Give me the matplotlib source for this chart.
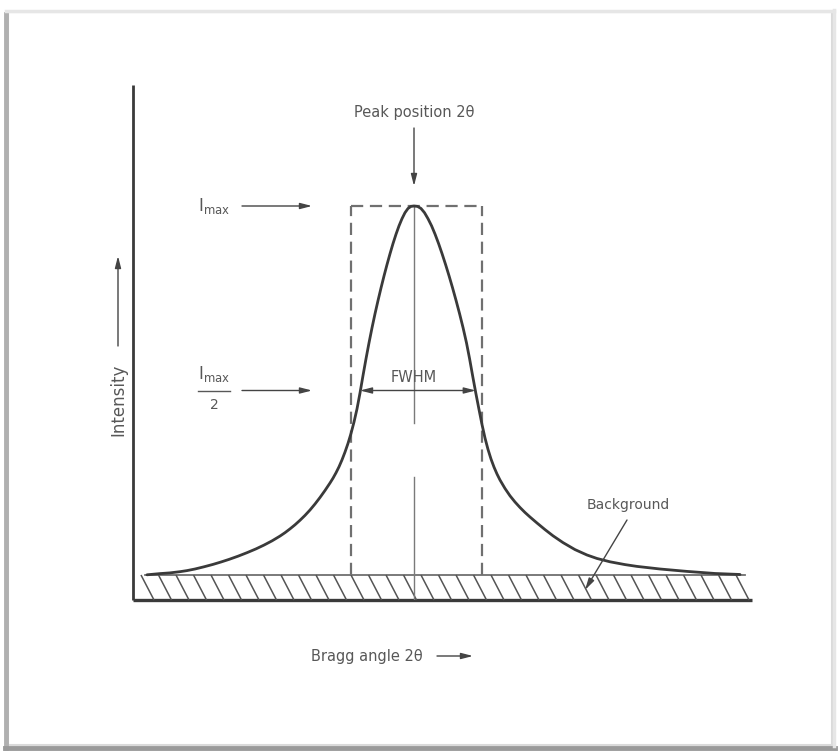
import matplotlib
matplotlib.use("Agg")
import matplotlib.pyplot as plt
from matplotlib.patches import Rectangle
import numpy as np

# Diffraction peak profile (2θ and intensity in arbitrary units)
two_theta = [1.4, 2.7, 3.7, 4.7, 5.4, 6.2, 7.1, 8.0, 8.8, 9.6, 10.5, 11.4,
             12.3, 13.1, 13.9, 14.7, 15.2, 15.7, 16.2, 16.7, 17.2, 17.7, 18.2,
             18.7, 19.2, 19.7, 20.0, 20.3, 20.6, 20.9, 21.2, 21.5, 21.8, 22.1,
             22.4, 22.7, 23.0, 23.3, 23.6, 23.9, 24.2, 24.5, 24.8, 25.1, 25.4,
             25.7, 26.0, 26.3, 26.6, 26.9, 27.2, 27.5, 27.8, 28.1,
             28.45, 28.8, 29.15, 29.5, 29.86, 30.21, 30.56, 30.91, 31.26,
             31.61, 31.96, 32.31, 32.66, 33.01, 33.35, 33.66, 33.96, 34.28,
             34.6, 34.9, 35.2, 35.5, 35.8, 36.1, 36.4, 36.7, 37.2, 37.7, 38.2,
             38.7, 39.2, 39.7, 40.4, 41.2, 42.0, 43.0, 44.2, 45.4, 46.4, 47.7,
             49.2, 50.4, 52.7, 55.4, 58.2, 60.7]
intensity = [6.3, 6.6, 6.78, 7.08, 7.35, 7.75, 8.3, 8.9, 9.5, 10.15, 10.95,
             11.83, 12.78, 13.73, 14.78, 15.98, 16.83, 17.78, 18.8, 19.93,
             21.15, 22.5, 24.0, 25.63, 27.38, 29.25, 30.45, 31.8, 33.3, 35.03,
             36.98, 39.15, 41.63, 44.48, 47.78, 51.75, 56.1, 60.3, 64.28, 68.03,
             71.55, 74.85, 78.0, 81.0, 83.85, 86.55, 89.1, 91.43, 93.53, 95.33,
             96.83, 97.88, 98.4, 98.5,
             98.4, 97.88, 96.83, 95.33, 93.53, 91.43, 89.1, 86.55, 83.85, 81.0,
             78.0, 74.85, 71.55, 68.03, 64.28, 60.3, 56.1, 51.75,
             47.63, 43.88, 40.5, 37.65, 35.25, 33.23, 31.5, 30.0, 27.88, 26.05,
             24.5, 23.13, 21.88, 20.75, 19.25, 17.6, 16.05, 14.35, 12.6, 11.25,
             10.38, 9.55, 8.85, 8.4, 7.75, 7.15, 6.63, 6.38]

peak_pos = 28.1            # peak position 2θ
i_max = 98.5               # peak intensity
background = 6.25          # background level
fwhm_left, fwhm_right = 22.7, 34.28        # half-maximum crossing points
breadth_left, breadth_right = 21.8, 34.9   # integral-breadth rectangle
bg_start, bg_end = 1.2, 61.2               # extent of background band
i_half = (i_max + background) / 2

x_max, y_max = 61.7, 128.75

W, H = 840, 753
fig = plt.figure(figsize=(W / 100, H / 100), dpi=100)
fig.patch.set_facecolor("white")


def fx(px):
    return px / W


def fy(py):
    return 1 - py / H


# page frame: light outline with a shadow on the left and bottom edges
fig.add_artist(Rectangle((fx(8), fy(745)), (832 - 8) / W, (745 - 12) / H,
                         transform=fig.transFigure, fill=False,
                         ec="#dadada", lw=1.5))
fig.add_artist(plt.Line2D([fx(5.5), fx(5.5)], [fy(14), fy(748)],
                          transform=fig.transFigure, color="#b0b0b0", lw=3.5))
fig.add_artist(plt.Line2D([fx(5), fx(835)], [fy(747.5), fy(747.5)],
                          transform=fig.transFigure, color="#9a9a9a", lw=3.5))
fig.add_artist(plt.Line2D([fx(6), fx(834)], [fy(10.5), fy(10.5)],
                          transform=fig.transFigure, color="#e6e6e6", lw=2.5))
fig.add_artist(plt.Line2D([fx(834), fx(834)], [fy(10), fy(746)],
                          transform=fig.transFigure, color="#e6e6e6", lw=2.5))

ax = fig.add_axes([133 / W, 1 - 600 / H, 617 / W, 515 / H])
ax.set_xlim(0, x_max)
ax.set_ylim(0, y_max)
ax.axis("off")

ink = "#3a3a3a"
soft = "#707070"
txt = "#585858"
font = dict(family="DejaVu Sans", fontsize=10.5, color=txt)

# axis lines
ax.plot([0, 0], [0, y_max], color=ink, lw=2.0, clip_on=False, solid_capstyle="butt")
ax.plot([0, 61.9], [0, 0], color=ink, lw=2.4, clip_on=False, solid_capstyle="butt")

# background band with hatching
ax.plot([bg_start, bg_end], [background, background], color=soft, lw=1.3, clip_on=False)
sx = 1.75
slant = 1.3
for xs in np.arange(0.8, 61.0, sx):
    ax.plot([xs, xs + slant], [background, 0], color="#555555", lw=1.1,
            clip_on=False, solid_capstyle="butt")

# integral-breadth rectangle
dash = dict(color=soft, lw=1.6, ls=(0, (5.5, 3)))
ax.plot([breadth_left, breadth_left], [background, i_max], **dash)
ax.plot([breadth_right, breadth_right], [background, i_max], **dash)
ax.plot([breadth_left, breadth_right], [i_max, i_max], **dash)

# centre line through the peak (broken)
ax.plot([peak_pos, peak_pos], [i_max, 44.25], color="#7a7a7a", lw=1.0)
ax.plot([peak_pos, peak_pos], [30.75, 0], color="#7a7a7a", lw=1.0)

# peak profile
ax.plot(two_theta, intensity, color=ink, lw=2.0, solid_capstyle="round",
        solid_joinstyle="round")

arrow_kw = dict(arrowstyle="-|>,head_length=0.7,head_width=0.18",
                color="#444444", lw=1.0, shrinkA=0, shrinkB=0)

# peak position
ax.annotate("", xy=(peak_pos, 103.5), xytext=(peak_pos, 118), arrowprops=arrow_kw)
ax.text(peak_pos, 121.8, "Peak position 2θ", ha="center", va="center", **font)

# I_max
label_x = 8.1
ax.annotate("", xy=(17.9, i_max), xytext=(10.9, i_max), arrowprops=arrow_kw)
ax.text(label_x, i_max, r"$\mathregular{I_{max}}$", ha="center", va="center",
        family="DejaVu Sans", fontsize=12, color=txt)

# I_max / 2
ax.annotate("", xy=(17.9, i_half), xytext=(10.9, i_half), arrowprops=arrow_kw)
ax.text(label_x, i_half + 4.0, r"$\mathregular{I_{max}}$", ha="center", va="center",
        family="DejaVu Sans", fontsize=12, color=txt)
ax.plot([label_x - 1.6, label_x + 1.6], [i_half, i_half], color=txt, lw=1.0)
ax.text(label_x, i_half - 3.6, "2", ha="center", va="center",
        family="DejaVu Sans", fontsize=10, color=txt)

# FWHM
ax.annotate("", xy=(fwhm_left, i_half), xytext=(fwhm_right, i_half),
            arrowprops=dict(arrowstyle="<|-|>,head_length=0.7,head_width=0.18",
                            color="#444444", lw=1.0, shrinkA=0, shrinkB=0))
ax.text(peak_pos, i_half + 3.2, "FWHM", ha="center", va="center", **font)

# background leader
ax.annotate("", xy=(45.2, 2.5), xytext=(49.4, 20.0), arrowprops=arrow_kw)
ax.text(49.5, 23.8, "Background", ha="center", va="center",
        family="DejaVu Sans", fontsize=10, color=txt)

# axis captions
ax.text(-1.5, 50.0, "Intensity", rotation=90, ha="center", va="center",
        clip_on=False, family="DejaVu Sans", fontsize=12, color=txt)
ax.annotate("", xy=(-1.5, 86.0), xytext=(-1.5, 63.5), arrowprops=arrow_kw,
            annotation_clip=False)
ax.text(23.4, -14.2, "Bragg angle 2θ", ha="center", va="center", clip_on=False, **font)
ax.annotate("", xy=(34.0, -14.0), xytext=(30.4, -14.0), arrowprops=arrow_kw,
            annotation_clip=False)

fig.savefig("out.png", dpi=100)
